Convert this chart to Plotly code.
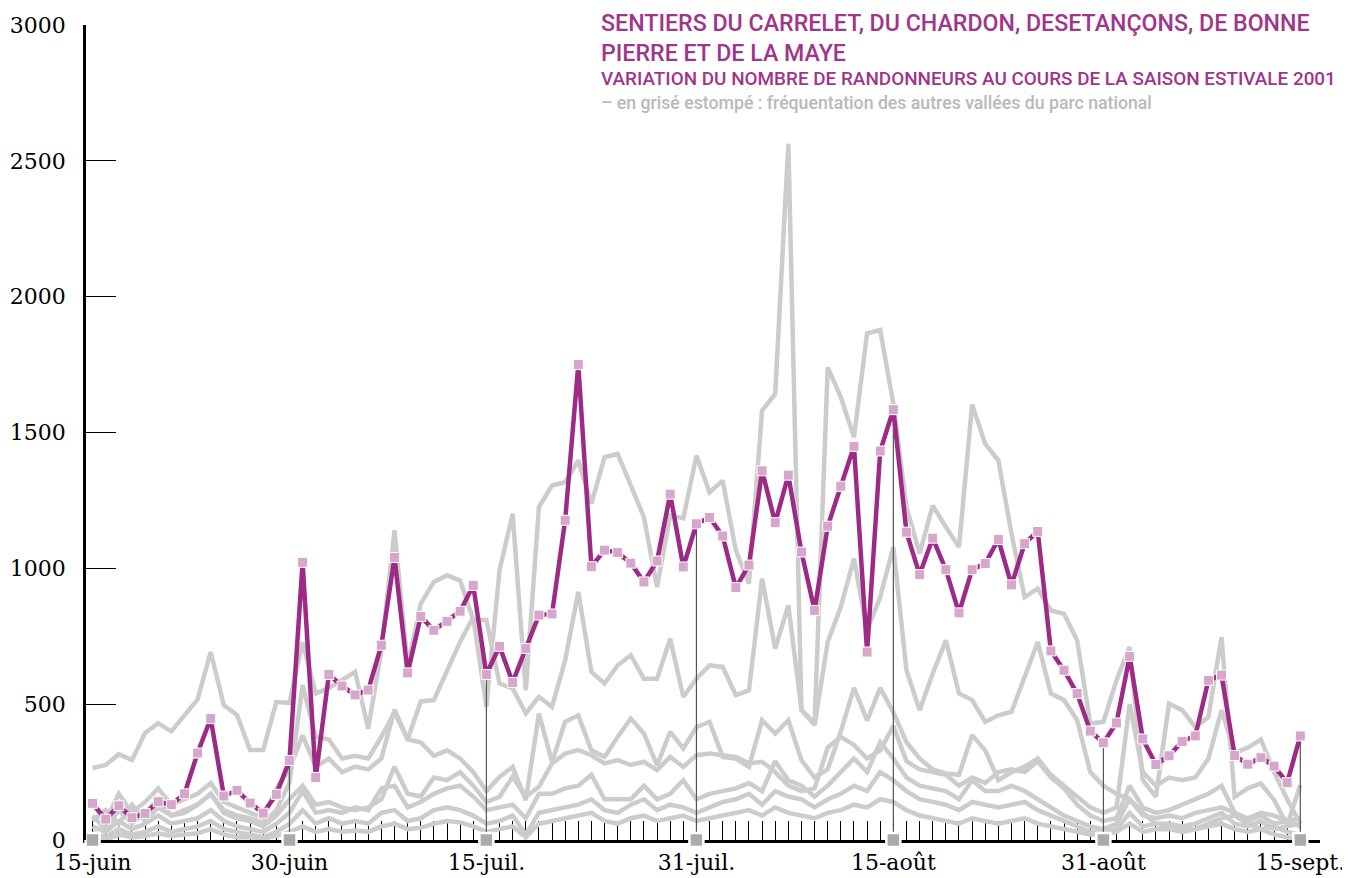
import plotly.graph_objects as go

# ---------------- data ----------------
days = list(range(93))  # 15 June (0) .. 15 Sept (92)
label_days = [0, 15, 30, 46, 61, 77, 92]
label_text = ["15-juin", "30-juin", "15-juil.", "31-juil.", "15-août", "31-août", "15-sept."]
y_ticks = [0, 500, 1000, 1500, 2000, 2500, 3000]

carrelet = [135, 77, 126, 82, 98, 141, 130, 170, 320, 447, 162, 183, 136, 99, 168, 293,
            1022, 230, 609, 567, 534, 552, 717, 1040, 615, 823, 772, 805, 842, 937, 609,
            713, 580, 705, 828, 832, 1177, 1750, 1006, 1067, 1058, 1019, 950, 1027, 1273, 1005,
            1164, 1187, 1119, 929, 1012, 1359, 1168, 1343, 1060, 845, 1155, 1302, 1449, 692, 1432, 1584,
            1133, 977, 1111, 995, 836, 995, 1018, 1106, 939, 1091, 1136, 696, 625, 539, 401,
            358, 431, 676, 372, 278, 310, 363, 383, 588, 607, 311, 279, 303, 272, 211, 383]

g1 = [265, 276, 316, 294, 394, 430, 400, 460, 517, 692, 496, 460, 331, 331, 508, 505,
      729, 539, 560, 588, 619, 410, 698, 1140, 640, 870, 950, 975, 955, 810, 810,
      576, 558, 466, 527, 490, 662, 913, 619, 576, 643, 680, 594, 594, 741, 527,
      594, 643, 637, 533, 551, 962, 705, 864, 478, 423, 729, 858, 1036, 772, 894, 1078,
      625, 478, 613, 735, 539, 515, 435, 459, 472, 600, 729, 539, 515, 441,
      250, 200, 170, 150, 100, 60, 50, 40, 40, 60, 80, 90, 60, 40, 50, 30, 20]
g2 = [70, 110, 60, 130, 70, 120, 90, 100, 130, 170, 110, 90, 80, 60, 110, 210,
      570, 380, 370, 300, 310, 300, 380, 470, 370, 510, 515, 620, 730, 820, 490,
      993, 1201, 551, 1225, 1305, 1317, 1397, 1238, 1409, 1421, 1305, 1188, 931, 1195, 1184,
      1415, 1280, 1323, 1066, 944, 1581, 1642, 2563, 478, 430, 1740, 1630, 1483, 1865, 1877, 1605,
      1225, 1054, 1231, 1152, 1078, 1603, 1458, 1397, 1128, 894, 925, 845, 833, 735, 429,
      435, 588, 711, 220, 159, 502, 478, 416, 453, 747, 159, 190, 208, 147, 55, 202]
g3 = [130, 70, 170, 100, 140, 190, 130, 150, 170, 210, 140, 120, 100, 80, 190, 260,
      385, 270, 300, 250, 270, 260, 300, 480, 370, 360, 310, 330, 300, 250, 180,
      232, 269, 147, 465, 288, 435, 459, 330, 306, 379, 447, 392, 275, 398, 337, 416, 435, 306, 300, 269, 441, 392, 441, 294,
      230, 260, 400, 560, 440, 560, 470, 360, 300, 260, 245, 240, 386, 330, 220, 250, 270, 300, 240, 200, 160, 120, 100,
      120, 500, 250, 200, 230, 220, 230, 300, 478, 320, 340, 370, 250, 150, 60]
g4 = [90, 40, 110, 60, 100, 150, 90, 110, 130, 170, 100, 80, 70, 50, 90, 150,
      200, 130, 140, 120, 110, 120, 150, 270, 170, 160, 230, 220, 250, 200, 140,
      159, 233, 159, 196, 282, 318, 331, 312, 282, 294, 276, 288, 257, 306, 269, 312, 318, 312, 306, 282, 288, 250, 200, 180,
      190, 340, 380, 350, 300, 330, 420, 290, 260, 250, 240, 200, 230, 210, 250, 260, 250, 290, 230, 190, 130, 90, 70,
      80, 200, 120, 100, 110, 130, 150, 170, 200, 100, 80, 100, 90, 70, 50]
g5 = [50, 30, 70, 40, 60, 90, 60, 70, 80, 110, 70, 50, 40, 30, 60, 100,
      180, 100, 110, 100, 120, 110, 190, 200, 120, 140, 170, 190, 200, 160, 110,
      120, 130, 80, 170, 170, 190, 200, 240, 150, 150, 150, 200, 150, 170, 220, 150, 170, 180, 190, 210, 180, 290, 220, 200,
      160, 200, 250, 300, 250, 360, 300, 230, 200, 190, 180, 150, 220, 180, 180, 200, 180, 150, 120, 90, 70, 50, 40,
      60, 150, 90, 80, 90, 80, 100, 110, 120, 100, 70, 90, 60, 70, 80]
g6 = [30, 10, 40, 20, 30, 50, 30, 40, 50, 70, 40, 30, 20, 10, 30, 60,
      110, 60, 80, 60, 70, 60, 100, 110, 70, 80, 110, 120, 110, 90, 60,
      70, 90, 20, 100, 110, 120, 130, 150, 110, 100, 130, 150, 110, 130, 120, 100, 120, 140, 150, 170, 130, 180, 160, 150,
      120, 150, 170, 200, 180, 250, 220, 180, 150, 140, 130, 110, 140, 130, 120, 130, 140, 110, 90, 70, 50, 30, 30,
      40, 100, 50, 60, 60, 50, 60, 80, 100, 60, 50, 70, 40, 50, 60]
g7 = [5, 0, 20, 10, 15, 25, 15, 20, 25, 40, 20, 10, 10, 5, 15, 30,
      50, 30, 40, 30, 35, 30, 50, 60, 40, 45, 60, 70, 65, 50, 30,
      40, 50, 10, 60, 70, 80, 90, 100, 70, 60, 80, 90, 70, 80, 90, 70, 80, 90, 100, 110, 90, 120, 100, 90,
      80, 100, 110, 130, 120, 150, 140, 110, 90, 80, 70, 60, 80, 70, 60, 70, 80, 60, 50, 40, 30, 20, 20,
      30, 60, 30, 40, 40, 30, 40, 50, 60, 40, 30, 40, 20, 10, 0]
other_valleys = [g1, g2, g3, g4, g5, g6, g7]

title1 = "SENTIERS DU CARRELET, DU CHARDON, DESETANÇONS, DE BONNE"
title2 = "PIERRE ET DE LA MAYE"
title3 = "VARIATION DU NOMBRE DE RANDONNEURS AU COURS DE LA SAISON ESTIVALE 2001"
title4 = "– en grisé estompé : fréquentation des autres vallées du parc national"

# ---------------- styles ----------------
PURPLE = "#9d2a86"
PINK = "#d6a6cb"
GREY = "#cccccc"
SERIF = "DejaVu Serif, Liberation Serif, serif"
SANS = "Roboto, Liberation Sans, sans-serif"

fig = go.Figure()

for s in other_valleys:
    fig.add_trace(go.Scatter(x=days, y=s, mode="lines",
                             line=dict(color=GREY, width=4.5), hoverinfo="skip"))

# drop lines at labelled dates
dx, dy = [], []
for d in label_days[1:]:
    dx += [d, d, None]
    dy += [0, carrelet[d], None]
fig.add_trace(go.Scatter(x=dx, y=dy, mode="lines", line=dict(color="#555555", width=1.2),
                         hoverinfo="skip"))

fig.add_trace(go.Scatter(x=days, y=carrelet, mode="lines+markers",
                         line=dict(color=PURPLE, width=4.5),
                         marker=dict(symbol="square", size=10, color=PINK,
                                     line=dict(color="white", width=1))))

fig.add_trace(go.Scatter(x=label_days, y=[0] * len(label_days), mode="markers",
                         marker=dict(symbol="square", size=14, color="#ababab",
                                     line=dict(color="white", width=2.5)),
                         cliponaxis=False, hoverinfo="skip"))

tick_text = [label_text[label_days.index(d)] if d in label_days else "" for d in days]

# page has an 8px body margin: figure is drawn from (8, 8)
fig.update_layout(
    width=1342, height=870,
    margin=dict(l=78, r=30, t=17, b=38),
    paper_bgcolor="white", plot_bgcolor="white",
    showlegend=False,
    font=dict(family=SERIF, color="black"),
    xaxis=dict(range=[-0.5, 93.5], tickmode="array", tickvals=days, ticktext=tick_text,
               ticks="inside", ticklen=19, tickwidth=1.3, tickcolor="black",
               showline=True, linecolor="black", linewidth=2.5, layer="below traces",
               showgrid=False, zeroline=False, automargin=False,
               tickfont=dict(family=SERIF, size=22, color="black"),
               ticklabelstandoff=1),
    yaxis=dict(range=[0, 3000], tickmode="array", tickvals=y_ticks,
               ticktext=[str(v) for v in y_ticks],
               ticks="inside", ticklen=30, tickwidth=1.3, tickcolor="black",
               showline=True, linecolor="black", linewidth=2.5,
               showgrid=False, zeroline=False, automargin=False,
               tickfont=dict(family=SERIF, size=22, color="black"),
               ticklabelstandoff=13),
)

# positions given in page pixels: plot area spans x 86..1320, y 25..840
def px_x(p):
    return (p - 86) / 1234.0

def px_y(p):
    return (840 - p) / 815.0

# two-line main title as one block
fig.add_annotation(text=title1 + "<br>" + title2, xref="paper", yref="paper",
                   x=px_x(600), y=px_y(8), xanchor="left", yanchor="top", align="left",
                   showarrow=False, borderpad=0,
                   font=dict(family=SANS, size=23.2, color="#a0358b", weight=500))

for txt, ypx, size, color in [(title3, 79, 18.9, "#a0358b"), (title4, 103, 17.7, "#b9b9b9")]:
    fig.add_annotation(text=txt, xref="paper", yref="paper", x=px_x(600), y=px_y(ypx),
                       xanchor="left", yanchor="middle", showarrow=False, borderpad=0,
                       font=dict(family=SANS, size=size, color=color, weight=500))

fig.write_html("out.html")
